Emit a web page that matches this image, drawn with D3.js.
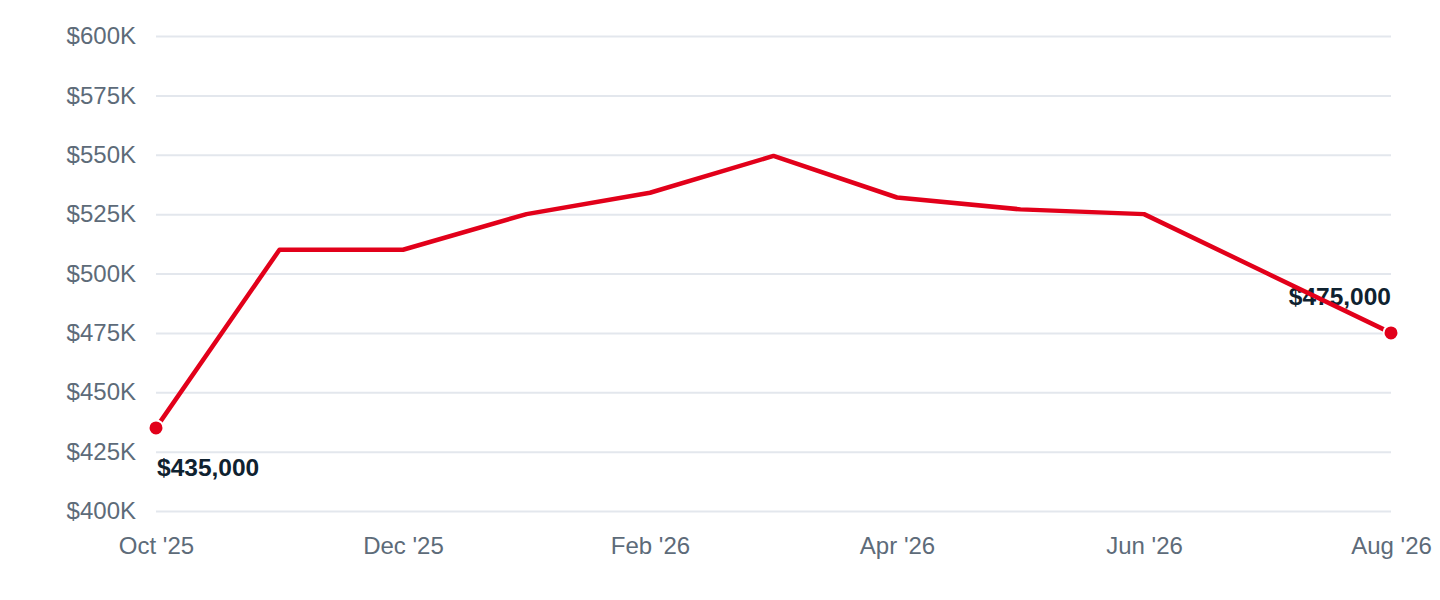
<!DOCTYPE html>
<html>
<head>
<meta charset="utf-8">
<script src="https://cdn.jsdelivr.net/npm/d3@7"></script>
<style>
  body { margin: 0; background: #fff; }
  .axis text { font-family: "Liberation Sans", Arial, sans-serif; font-size: 24px; fill: #5d6b79; }
  .axis .domain { display: none; }
  .grid line { stroke: #e3e7ed; stroke-width: 2px; }
  .grid .domain { display: none; }
  .end-label { font-family: "Liberation Sans", Arial, sans-serif; font-size: 24.5px; font-weight: bold; fill: #0f2230; }
</style>
</head>
<body>
<div class="line-chart-container"></div>
<script>
const months = ['2025-10', '2025-11', '2025-12', '2026-01', '2026-02', '2026-03',
                '2026-04', '2026-05', '2026-06', '2026-07', '2026-08'];
const prices = [435000, 510000, 510000, 525000, 534000, 549500,
                532000, 527000, 525000, 500000, 475000];
const x_ticks = ['2025-10', '2025-12', '2026-02', '2026-04', '2026-06', '2026-08'];
const y_ticks = [400000, 425000, 450000, 475000, 500000, 525000, 550000, 575000, 600000];

const parse_month = d3.timeParse('%Y-%m');
const format_month = d3.timeFormat("%b '%y");

function get_chart_data() {
   return months.map((m, i) => ({ month: m, price: prices[i] }));
}

// months are evenly spaced in the picture, so a point scale
function build_x_scale(width) {
   return d3.scalePoint()
      .domain(months)
      .range([0, width]);
}

function build_y_scale(height) {
   return d3.scaleLinear()
      .domain([d3.min(y_ticks), d3.max(y_ticks)])
      .range([height, 0]);
}

function build_graph(width, height, margin) {
   return d3.select('.line-chart-container')
      .append('svg')
      .attr('width', width + margin.left + margin.right)
      .attr('height', height + margin.top + margin.bottom)
      .append('g')
      .attr('transform', `translate(${margin.left}, ${margin.top})`);
}

function create_grid(yScale, chart, width) {
   chart.append('g')
      .attr('class', 'grid')
      .call(d3.axisLeft(yScale).tickValues(y_ticks).tickSize(-width).tickFormat(''));
}

function create_y_axis(yScale, chart) {
   const yAxis = d3.axisLeft(yScale)
      .tickValues(y_ticks)
      .tickSize(0)
      .tickPadding(20)
      .tickFormat(d => `$${d / 1000}K`);
   chart.append('g')
      .attr('class', 'y axis')
      .call(yAxis);
}

function create_x_axis(xScale, chart, height) {
   const xAxis = d3.axisBottom(xScale)
      .tickValues(x_ticks)
      .tickSize(0)
      .tickPadding(26)
      .tickFormat(m => format_month(parse_month(m)));
   chart.append('g')
      .attr('class', 'x axis')
      .attr('transform', `translate(0, ${height})`)
      .call(xAxis);
}

function draw_line(chart, data, xScale, yScale) {
   const line = d3.line()
      .x(d => xScale(d.month))
      .y(d => yScale(d.price));
   chart.append('path')
      .datum(data)
      .attr('d', line)
      .attr('fill', 'none')
      .attr('stroke', '#e2001a')
      .attr('stroke-width', 4.5)
      .attr('stroke-linejoin', 'round');
}

function draw_end_points(chart, data, xScale, yScale) {
   const ends = [data[0], data[data.length - 1]];
   const fmt = d3.format('$,');

   // labels: first one below right, last one above left
   chart.selectAll('.end-label')
      .data(ends)
      .enter()
      .append('text')
      .attr('class', 'end-label')
      .attr('x', d => xScale(d.month) + (d === ends[0] ? 1 : 0))
      .attr('y', d => yScale(d.price) + (d === ends[0] ? 48 : -28))
      .attr('text-anchor', d => d === ends[0] ? 'start' : 'end')
      .text(d => fmt(d.price));

   chart.selectAll('.end-dot')
      .data(ends)
      .enter()
      .append('circle')
      .attr('class', 'end-dot')
      .attr('cx', d => xScale(d.month))
      .attr('cy', d => yScale(d.price))
      .attr('r', 7.5)
      .attr('fill', '#e2001a')
      .attr('stroke', '#fff')
      .attr('stroke-width', 2);
}

function build_chart() {
   const margin = {top: 36, bottom: 89, left: 156, right: 49};
   const width = 1440 - margin.left - margin.right;
   const height = 600 - margin.top - margin.bottom;

   const chart_data = get_chart_data();

   const xScale = build_x_scale(width);
   const yScale = build_y_scale(height);
   const chart = build_graph(width, height, margin);
   create_grid(yScale, chart, width);
   create_y_axis(yScale, chart);
   create_x_axis(xScale, chart, height);
   draw_end_points(chart, chart_data, xScale, yScale);
   draw_line(chart, chart_data, xScale, yScale);
   // dots back on top of the line
   chart.selectAll('.end-dot').raise();
}

build_chart();
</script>
</body>
</html>
